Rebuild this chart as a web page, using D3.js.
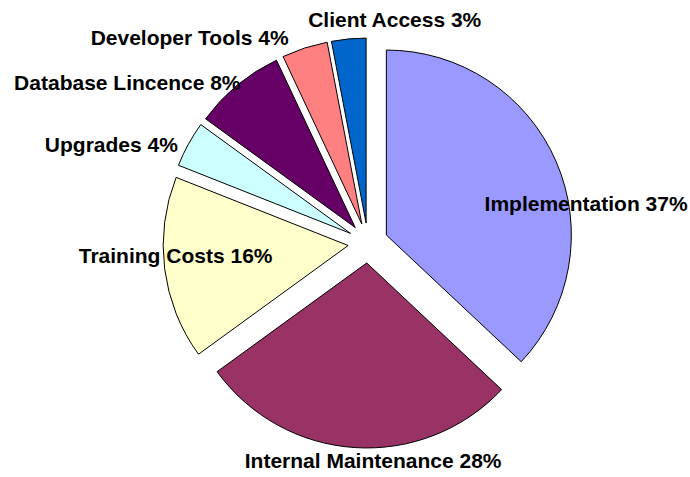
<!DOCTYPE html>
<html>
<head>
<meta charset="utf-8">
<script src="https://cdn.jsdelivr.net/npm/d3@7"></script>
<style>
  html, body { margin: 0; padding: 0; background: #fff; }
  #chart text { font-family: "Liberation Sans", Arial, sans-serif; font-weight: bold; }
</style>
</head>
<body>
<div id="chart"></div>
<script>
// slice data, clockwise from 12 o'clock
var categories = ["Implementation", "Internal Maintenance", "Training Costs", "Upgrades",
                  "Database Lincence", "Developer Tools", "Client Access"];
var shares = [37, 28, 16, 4, 8, 4, 3];
var sliceColors = ["#9999FF", "#993366", "#FFFFCC", "#CCFFFF", "#660066", "#FF8080", "#0066CC"];

var width = 690,
    height = 477,
    cx = 368,
    cy = 243,
    radius = 185,
    explode = 20;

// where Excel put each label, relative to the outer edge of its slice
var labelNudge = [[30, 49], [18, 20], [11, -6], [-77, 8], [-110, 5], [-115, -3], [46, -12]];

var rows = categories.map(function (c, i) {
    return { name: c, value: shares[i], color: sliceColors[i], nudge: labelNudge[i] };
});

var pie = d3.pie()
    .sort(null)
    .value(function (d) { return d.value; });

var arc = d3.arc()
    .innerRadius(0)
    .outerRadius(radius);

var svg = d3.select("#chart")
    .append("svg")
    .attr("width", width)
    .attr("height", height);

var g = svg.append("g")
    .attr("transform", "translate(" + cx + "," + cy + ")");

function mid(d) { return (d.startAngle + d.endAngle) / 2; }

var slices = g.selectAll(".slice")
    .data(pie(rows))
    .enter().append("g")
    .attr("class", "slice")
    .attr("transform", function (d) {
        var a = mid(d);
        return "translate(" + explode * Math.sin(a) + "," + (-explode * Math.cos(a)) + ")";
    });

slices.append("path")
    .attr("d", arc)
    .attr("fill", function (d) { return d.data.color; })
    .attr("stroke", "#000")
    .attr("stroke-width", 1)
    .attr("stroke-linejoin", "round");

g.selectAll(".label")
    .data(pie(rows))
    .enter().append("text")
    .attr("class", "label")
    .attr("text-anchor", "middle")
    .attr("font-size", 21)
    .attr("fill", "#000")
    .attr("x", function (d) {
        return (radius + explode) * Math.sin(mid(d)) + d.data.nudge[0];
    })
    .attr("y", function (d) {
        return -(radius + explode) * Math.cos(mid(d)) + d.data.nudge[1];
    })
    .text(function (d) { return d.data.name + " " + d.data.value + "%"; });
</script>
</body>
</html>
